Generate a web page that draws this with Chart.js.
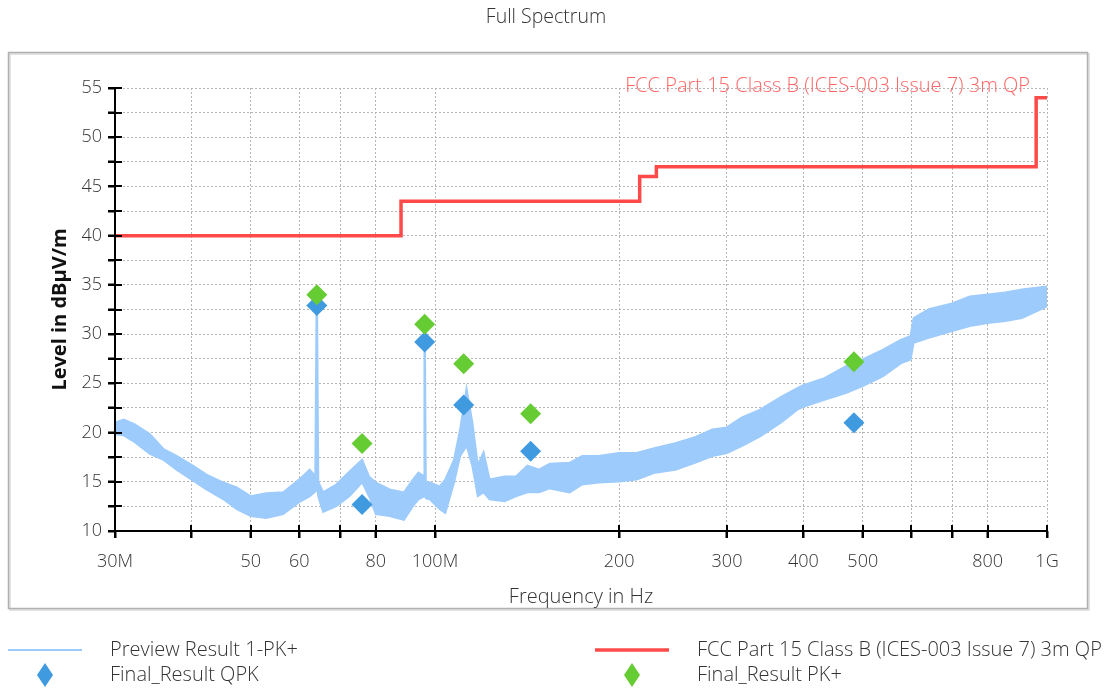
<!DOCTYPE html>
<html>
<head>
<meta charset="utf-8">
<title>Full Spectrum</title>
<script src="https://cdn.jsdelivr.net/npm/chart.js@4.4.1/dist/chart.umd.min.js"></script>
<style>
  html, body { margin: 0; padding: 0; background: #fff; }
  #wrap { width: 1110px; height: 689px; position: relative; }
</style>
</head>
<body>
<div id="wrap"><canvas id="spectrum"></canvas></div>
<script>
const previewFreq = [30, 31, 32.3, 34.2, 36, 37.8, 40, 42.3, 45.1, 47.4, 50, 53, 56.5, 60, 62.4, 63.8, 64.1, 64.4,
  65.6, 69, 72.5, 76, 78, 80, 84.3, 89, 92.1, 94, 96, 96.2, 96.5, 98, 101.8, 104, 107.5, 110, 112.6, 115,
  117.4, 120, 122.7, 130, 135.6, 141.6, 148, 154, 166, 174, 185, 200, 213.5, 229, 247, 266, 284, 300,
  317, 340, 368, 391, 400, 433, 469, 500, 540, 577, 599, 606, 641, 700, 748, 800, 855, 910, 1000];
const previewTop = [21.0, 21.3, 20.8, 19.8, 18.3, 17.6, 16.7, 15.7, 14.9, 14.4, 13.5, 13.8, 13.9, 15.2, 16.2, 15.5, 33.0, 15.0,
  13.9, 14.7, 16.0, 17.2, 15.5, 14.9, 14.2, 13.9, 15.2, 15.9, 15.5, 29.0, 15.0, 14.9, 14.5, 15.2, 17.2, 20.3, 24.3, 21.0,
  16.6, 17.9, 15.2, 15.5, 15.5, 16.6, 16.2, 16.8, 16.9, 17.6, 17.6, 17.9, 17.9, 18.4, 18.9, 19.5, 20.3, 20.5,
  21.5, 22.3, 23.6, 24.5, 24.8, 25.5, 26.7, 27.4, 28.4, 29.4, 29.8, 31.6, 32.5, 33.1, 33.8, 34.0, 34.2, 34.5, 34.8];
const previewBottom = [19.8, 19.7, 19.0, 17.8, 17.2, 16.2, 15.2, 14.2, 13.2, 12.2, 11.5, 11.3, 11.7, 12.9, 13.5, 14.0, 14.5, 13.5,
  11.9, 12.5, 13.5, 14.9, 13.5, 11.7, 11.5, 11.1, 12.5, 13.2, 13.5, 14.0, 13.3, 13.2, 12.2, 11.8, 14.9, 17.6, 18.6, 16.6,
  13.5, 13.9, 13.2, 13.0, 13.5, 13.9, 13.9, 14.3, 13.9, 14.7, 14.9, 15.0, 15.2, 15.9, 16.2, 16.9, 17.6, 17.9,
  18.6, 19.6, 21.0, 22.3, 22.6, 23.3, 24.0, 24.7, 25.7, 27.0, 27.4, 29.1, 29.6, 30.3, 30.8, 31.1, 31.3, 31.6, 32.8];

// FCC Part 15 Class B limit (level holds until the next frequency)
const limitFreq = [30, 88, 216, 230, 960, 1000];
const limitLevel = [40, 43.5, 46, 47, 54, 54];

// final measurements
const finalFreq = [64.1, 76.0, 96.2, 111.4, 143.3, 483.7];
const finalQPK = [32.9, 12.7, 29.2, 22.8, 18.1, 21.0];
const finalPK = [34.0, 18.9, 31.0, 27.0, 21.9, 27.2];

// axis ticks
const xTickFreq = [30, 40, 50, 60, 70, 80, 100, 200, 300, 400, 500, 600, 700, 800, 1000];
const xTickLabels = ['30M', '', '50', '60', '', '80', '100M', '200', '300', '400', '500', '', '', '800', '1G'];
const yTickValues = [10, 12.5, 15, 17.5, 20, 22.5, 25, 27.5, 30, 32.5, 35, 37.5, 40, 42.5, 45, 47.5, 50, 52.5, 55];
const yTickLabels = ['10', '', '15', '', '20', '', '25', '', '30', '', '35', '', '40', '', '45', '', '50', '', '55'];

const limitName = 'FCC Part 15 Class B (ICES-003 Issue 7) 3m QP';
const seriesNames = ['Preview Result 1-PK+', 'Final_Result QPK', limitName, 'Final_Result PK+'];

const blueTrace = '#9dcbfb';
const redLimit = '#ff4a4a';
const blueMark = '#3f9ae0';
const greenMark = '#66cc33';
const textCol = '#333';
const fontFam = "'Open Sans', 'DejaVu Sans', sans-serif";

Chart.defaults.font.family = fontFam;
Chart.defaults.color = textCol;

function pts(xs, ys) {
  return xs.map((x, i) => ({x: x, y: ys[i]}));
}

// frame, title, inner tick halves, legend and limit label
const decorPlugin = {
  id: 'decor',
  beforeDraw(chart) {
    const ctx = chart.ctx;
    ctx.save();
    ctx.fillStyle = '#fff';
    ctx.fillRect(0, 0, chart.width, chart.height);
    ctx.strokeStyle = '#e2e2e2';
    ctx.lineWidth = 2;
    ctx.strokeRect(10, 54, 1079, 556);
    ctx.strokeStyle = '#b0b0b0';
    ctx.lineWidth = 1.5;
    ctx.strokeRect(8.5, 52.5, 1079, 556);
    ctx.fillStyle = textCol;
    ctx.font = '300 19.5px ' + fontFam;
    ctx.textAlign = 'center';
    ctx.textBaseline = 'middle';
    ctx.fillText('Full Spectrum', 546, 17);
    ctx.restore();
  },
  afterDatasetsDraw(chart) {
    const ctx = chart.ctx;
    const a = chart.chartArea;
    const xs = chart.scales.x, ys = chart.scales.y;
    ctx.save();
    ctx.strokeStyle = '#000';
    ctx.lineWidth = 2;
    ctx.beginPath();
    ys.ticks.forEach(t => {
      const py = Math.round(ys.getPixelForValue(t.value));
      ctx.moveTo(a.left - 7, py);
      ctx.lineTo(a.left + 7, py);
    });
    xs.ticks.forEach(t => {
      const px = Math.round(xs.getPixelForValue(t.value));
      ctx.moveTo(px, a.bottom - 6);
      ctx.lineTo(px, a.bottom + 7);
    });
    ctx.moveTo(a.left, a.top);
    ctx.lineTo(a.left, a.bottom);
    ctx.lineTo(a.right, a.bottom);
    ctx.stroke();

    // limit line label
    ctx.fillStyle = 'rgba(255, 74, 74, 0.85)';
    ctx.font = '300 20px ' + fontFam;
    ctx.textAlign = 'right';
    ctx.textBaseline = 'middle';
    ctx.fillText(limitName, a.right - 17, a.top - 2);

    // legend
    ctx.font = '300 20px ' + fontFam;
    ctx.textAlign = 'left';
    const rows = [650, 675];
    const cols = [{lx: 8, tx: 110}, {lx: 595, tx: 697}];
    const items = [
      {col: 0, row: 0, kind: 'line', color: blueTrace, w: 2},
      {col: 0, row: 1, kind: 'mark', color: blueMark},
      {col: 1, row: 0, kind: 'line', color: redLimit, w: 3.5},
      {col: 1, row: 1, kind: 'mark', color: greenMark}
    ];
    items.forEach((it, i) => {
      const c = cols[it.col], y = rows[it.row];
      if (it.kind === 'line') {
        ctx.strokeStyle = it.color;
        ctx.lineWidth = it.w;
        ctx.beginPath();
        ctx.moveTo(c.lx, y);
        ctx.lineTo(c.lx + 74, y);
        ctx.stroke();
      } else {
        const cx = c.lx + 37;
        ctx.fillStyle = it.color;
        ctx.beginPath();
        ctx.moveTo(cx, y - 12);
        ctx.lineTo(cx + 8, y);
        ctx.lineTo(cx, y + 12);
        ctx.lineTo(cx - 8, y);
        ctx.closePath();
        ctx.fill();
      }
      ctx.fillStyle = textCol;
      ctx.fillText(seriesNames[i], c.tx, y);
    });
    ctx.restore();
  }
};

const ctx = document.getElementById('spectrum').getContext('2d');
const chart = new Chart(ctx, {
  type: 'line',
  data: {
    datasets: [
      {
        label: seriesNames[3],
        type: 'scatter',
        data: pts(finalFreq, finalPK),
        pointStyle: 'rectRot',
        pointRadius: 10.5,
        pointBackgroundColor: greenMark,
        pointBorderWidth: 0,
        showLine: false,
        order: 1
      },
      {
        label: seriesNames[1],
        type: 'scatter',
        data: pts(finalFreq, finalQPK),
        pointStyle: 'rectRot',
        pointRadius: 10.5,
        pointBackgroundColor: blueMark,
        pointBorderWidth: 0,
        showLine: false,
        order: 2
      },
      {
        label: limitName,
        data: pts(limitFreq, limitLevel),
        borderColor: redLimit,
        borderWidth: 3.5,
        stepped: 'before',
        pointRadius: 0,
        fill: false,
        order: 3
      },
      {
        label: seriesNames[0],
        data: pts(previewFreq, previewTop),
        borderColor: blueTrace,
        backgroundColor: blueTrace,
        borderWidth: 2.5,
        pointRadius: 0,
        tension: 0,
        fill: '+1',
        order: 4
      },
      {
        label: 'preview lower',
        data: pts(previewFreq, previewBottom),
        borderColor: blueTrace,
        borderWidth: 1.5,
        pointRadius: 0,
        tension: 0,
        fill: false,
        order: 5
      }
    ]
  },
  options: {
    responsive: true,
    maintainAspectRatio: false,
    animation: false,
    layout: {padding: {top: 88, right: 63, bottom: 78, left: 0}},
    plugins: {
      legend: {display: false},
      title: {display: false},
      tooltip: {enabled: false}
    },
    scales: {
      x: {
        type: 'logarithmic',
        min: 30,
        max: 1000,
        afterBuildTicks: s => { s.ticks = xTickFreq.map(v => ({value: v})); },
        afterFit: s => { s.height = 80; },
        ticks: {
          autoSkip: false,
          maxRotation: 0,
          padding: 13,
          font: {size: 18, weight: '300'},
          color: textCol,
          callback: (v, i) => xTickLabels[i]
        },
        grid: {color: '#b5b5b5', lineWidth: 1, tickColor: '#000', tickLength: 7, tickWidth: 2, tickBorderDash: []},
        border: {display: false, dash: [2, 2]},
        title: {
          display: true,
          text: 'Frequency in Hz',
          font: {size: 20, weight: '300'},
          color: textCol,
          padding: {top: 0, bottom: 2}
        }
      },
      y: {
        type: 'linear',
        min: 10,
        max: 55,
        afterBuildTicks: s => { s.ticks = yTickValues.map(v => ({value: v})); },
        afterFit: s => { s.width = 115; },
        ticks: {
          autoSkip: false,
          padding: 6,
          font: {size: 18, weight: '300'},
          color: textCol,
          callback: (v, i) => yTickLabels[i]
        },
        grid: {color: '#b5b5b5', lineWidth: 1, tickColor: '#000', tickLength: 7, tickWidth: 2, tickBorderDash: []},
        border: {display: false, dash: [2, 2]},
        title: {
          display: true,
          text: 'Level in dBµV/m',
          font: {size: 20, weight: 'bold'},
          color: '#111',
          padding: {top: 48, bottom: 0}
        }
      }
    }
  },
  plugins: [decorPlugin]
});
</script>
</body>
</html>
